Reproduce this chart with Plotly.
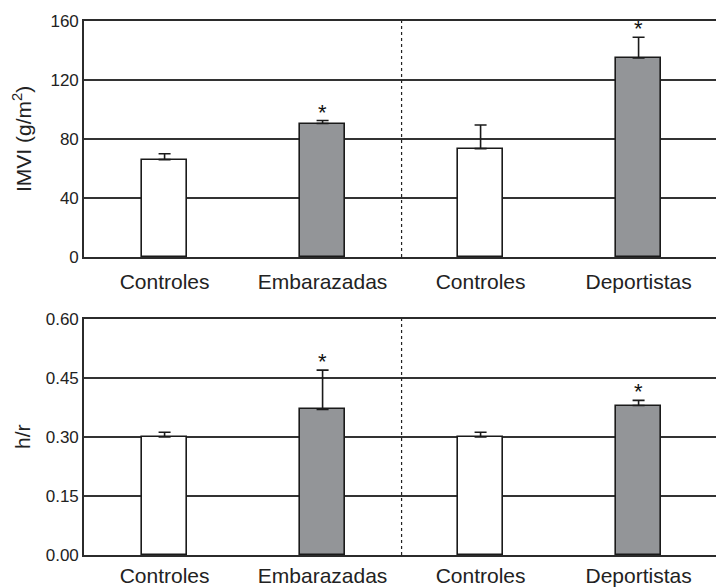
import plotly.graph_objects as go

# Groups along the x axis (two control/study pairs)
categories = ["Controles", "Embarazadas", "Controles ", "Deportistas"]
tick_labels = ["Controles", "Embarazadas", "Controles", "Deportistas"]

# Left-ventricular mass index, g/m² (mean and upper SD)
imvi_mean = [66, 90.5, 73.5, 135]
imvi_err = [4, 2, 16, 14]

# Relative wall thickness h/r (mean and upper SD)
hr_mean = [0.30, 0.37, 0.30, 0.38]
hr_err = [0.012, 0.10, 0.012, 0.013]

# Which groups carry a significance mark
significant = [False, True, False, True]

bar_fill = ["#ffffff", "#939598", "#ffffff", "#939598"]

W, H = 716, 588
FONT = "Liberation Sans, Arial, sans-serif"
INK = "#2b2b2b"

fig = go.Figure()

def add_panel(means, errs, xa, ya):
    fig.add_trace(go.Bar(
        x=list(range(len(categories))), y=means,
        xaxis=xa, yaxis=ya,
        width=0.29,
        marker=dict(color=bar_fill, line=dict(color="#1a1a1a", width=1.6)),
        error_y=dict(type="data", symmetric=False, array=errs,
                     arrayminus=[0] * len(errs), color="#1a1a1a",
                     thickness=1.6, width=6),
        showlegend=False, hoverinfo="skip",
    ))
    for i, (m, e, s) in enumerate(zip(means, errs, significant)):
        if s:
            fig.add_annotation(x=i, y=m + e, xref=xa, yref=ya, text="*",
                               showarrow=False, yanchor="bottom", yshift=-6,
                               font=dict(family=FONT, size=22, color="#111"))

add_panel(imvi_mean, imvi_err, "x", "y")
add_panel(hr_mean, hr_err, "x2", "y2")

# plot-area geometry in pixels
left_px = 84
top_dom = [1 - 257 / H, 1 - 21 / H]
bot_dom = [1 - 555 / H, 1 - 319 / H]

xcommon = dict(domain=[left_px / W, 1], range=[-0.51, 3.49], automargin=False,
               tickmode="array", tickvals=list(range(4)), ticktext=tick_labels,
               showline=True, mirror=True, linecolor=INK, linewidth=1.6,
               showgrid=False, zeroline=False, ticks="",
               tickfont=dict(family=FONT, size=21, color="#222"))
ycommon = dict(showline=True, linecolor=INK, linewidth=1.6, automargin=False,
               showgrid=True, gridcolor="#333333", gridwidth=1.6,
               zeroline=False, ticks="",
               tickfont=dict(family=FONT, size=17, color="#222"))

fig.update_layout(
    width=W, height=H,
    margin=dict(l=0, r=0, t=0, b=0, autoexpand=False),
    paper_bgcolor="white", plot_bgcolor="white",
    bargap=0,
    xaxis=dict(**xcommon, anchor="y", ticklabelstandoff=5),
    yaxis=dict(**ycommon, domain=top_dom, range=[0, 160],
               tickvals=[0, 40, 80, 120, 160], anchor="x"),
    xaxis2=dict(**xcommon, anchor="y2", ticklabelstandoff=1),
    yaxis2=dict(**ycommon, domain=bot_dom, range=[0, 0.6],
                tickvals=[0, 0.15, 0.30, 0.45, 0.60], tickformat=".2f",
                anchor="x2"),
)

# dashed divider between the two study pairs
for xa, ya in (("x", "y"), ("x2", "y2")):
    fig.add_shape(type="line", xref=xa, yref=ya + " domain",
                  x0=1.5, x1=1.5, y0=0, y1=1,
                  line=dict(color="#222", width=1.2, dash="dot"))

# axis titles
fig.add_annotation(x=22 / W, y=(top_dom[0] + top_dom[1]) / 2, xref="paper", yref="paper",
                   xanchor="center", yanchor="middle",
                   text="IMVI (g/m<sup>2</sup>)", textangle=-90, showarrow=False,
                   font=dict(family=FONT, size=21, color="#222"))
fig.add_annotation(x=22 / W, y=(bot_dom[0] + bot_dom[1]) / 2, xref="paper", yref="paper",
                   xanchor="center", yanchor="middle",
                   text="h/r", textangle=-90, showarrow=False,
                   font=dict(family=FONT, size=21, color="#222"))

fig.write_html("out.html")
